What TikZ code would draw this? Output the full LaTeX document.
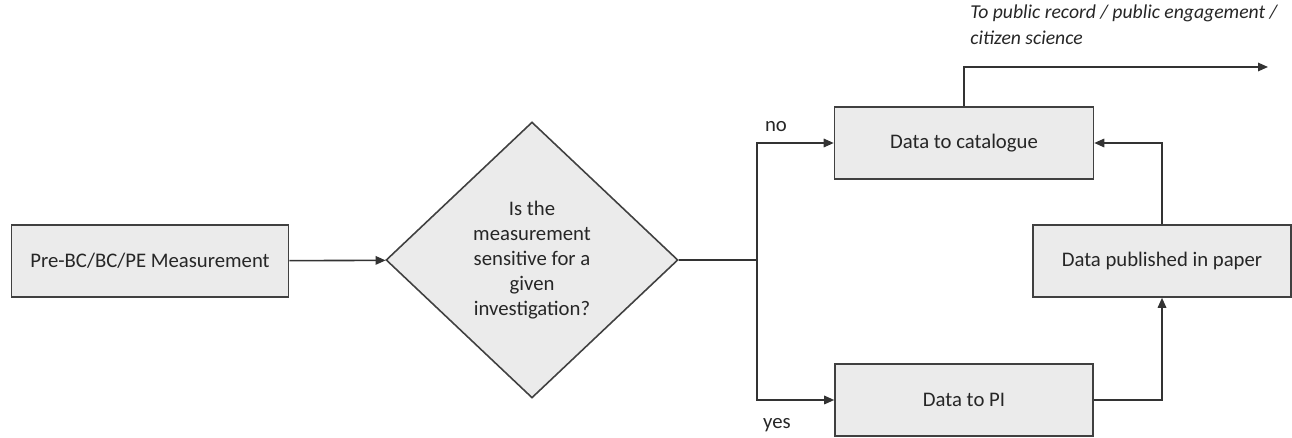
\documentclass[tikz,border=0pt]{standalone}
\usepackage{fontspec}
\setmainfont{Carlito}
\usetikzlibrary{shapes.geometric,arrows.meta}

\tikzset{
  box/.style={rectangle, draw=black!75, fill=black!8, line width=0.9pt,
    minimum height=1.44cm, text=black!85, font=\fontsize{11.8}{14}\selectfont},
  decision/.style={diamond, draw=black!75, fill=black!8, line width=0.9pt,
    inner sep=0pt, minimum width=5.84cm, minimum height=5.52cm, align=center,
    text=black!85, font=\fontsize{11.8}{14.2}\selectfont},
  flow/.style={draw=black!80, line width=0.9pt, -{Triangle[length=0.2cm,width=0.17cm]}},
  tag/.style={text=black!85, font=\fontsize{11.8}{14}\selectfont}
}

\begin{document}
\begin{tikzpicture}[x=0.02cm,y=-0.02cm]
\useasboundingbox (0,0) rectangle (1292,438);

\node (measure) at (150,261) [box, minimum width=5.54cm] {Pre-BC/BC/PE Measurement};
\node (question) at (532,260) [decision] {Is the\\measurement\\sensitive for a\\given\\investigation?};
	\draw[flow] (measure) -- (question);
\coordinate (branch) at (757,260);
\node (catalogue) at (964,143) [box, minimum width=5.18cm] {Data to catalogue};
\node (pi) at (964,400) [box, minimum width=5.16cm] {Data to PI};
\node (paper) at (1162,261) [box, minimum width=5.16cm] {Data published in paper};
\coordinate (public) at (1268,67);

	\draw[flow,-] (question) -- (branch);
	\draw[flow] (branch) |- (catalogue);
	\draw[flow] (branch) |- (pi);
	\draw[flow] (pi) -| (paper);
	\draw[flow] (paper) |- (catalogue);
	\draw[flow] (catalogue) |- (public);

\node (no) at (776,127) [tag] {no};
\node (yes) at (777,425) [tag] {yes};
\node (publictext) at (970,4) [tag, anchor=north west, inner sep=0pt, align=left,
  font=\fontsize{11.2}{15.3}\selectfont\itshape] {To public record / public engagement /\\citizen science};
\end{tikzpicture}
\end{document}
